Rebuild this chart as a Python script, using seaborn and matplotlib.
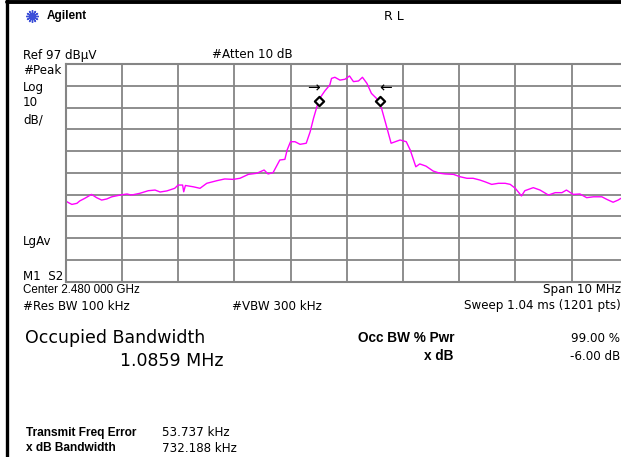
import numpy as np
import matplotlib
matplotlib.use("Agg")
import matplotlib.pyplot as plt
from matplotlib.lines import Line2D
import seaborn as sns

# trace: offset from 2.475 GHz [MHz] and level [dBuV]
freq_offset = [0.00, 0.05, 0.11, 0.20, 0.25, 0.34, 0.46, 0.55, 0.64, 0.73,
               0.82, 0.97, 1.09, 1.17, 1.32, 1.47, 1.59, 1.68, 1.80, 1.94,
               2.00, 2.08, 2.10, 2.13, 2.27, 2.39, 2.51, 2.69, 2.83, 2.98,
               3.10, 3.25, 3.40, 3.53, 3.60, 3.69, 3.81, 3.90, 3.94, 4.00,
               4.08, 4.17, 4.28, 4.35, 4.41, 4.47, 4.52, 4.61, 4.70, 4.73,
               4.79, 4.88, 4.97, 5.05, 5.12, 5.21, 5.28, 5.36, 5.44, 5.53,
               5.62, 5.71, 5.79, 5.95, 6.06, 6.13, 6.23, 6.30, 6.41, 6.54,
               6.66, 6.75, 6.90, 7.02, 7.14, 7.25, 7.37, 7.46, 7.58, 7.70,
               7.82, 7.91, 8.00, 8.05, 8.11, 8.17, 8.32, 8.44, 8.59, 8.71,
               8.83, 8.91, 9.03, 9.15, 9.27, 9.39, 9.54, 9.63, 9.74, 9.83,
               9.88, 10.00]
level_dbuv = [34.1, 33.3, 32.5, 33.0, 34.1, 35.3, 37.1, 35.6, 34.5, 35.0,
              36.0, 36.8, 37.3, 36.8, 37.6, 38.8, 39.1, 38.2, 38.7, 39.9,
              41.4, 41.4, 38.3, 41.2, 40.6, 39.9, 42.2, 43.4, 44.2, 44.0,
              44.5, 46.3, 46.8, 48.3, 46.5, 47.1, 52.9, 53.2, 57.5, 61.3,
              61.3, 60.1, 60.6, 65.9, 72.1, 77.4, 81.2, 84.6, 87.4, 90.4,
              90.9, 89.6, 90.0, 91.5, 88.9, 89.2, 90.9, 88.1, 83.5, 81.2,
              76.6, 68.2, 60.6, 62.1, 61.3, 57.5, 49.8, 51.1, 50.1, 47.8,
              46.8, 46.5, 46.3, 45.2, 44.5, 44.5, 43.7, 42.9, 41.7, 42.2,
              42.2, 41.7, 39.9, 38.3, 36.4, 38.8, 40.2, 39.1, 36.8, 37.9,
              37.9, 39.1, 37.1, 37.3, 35.6, 36.0, 36.0, 34.8, 33.5, 34.5,
              35.3, 35.0]

center_ghz = 2.480
span_mhz = 10
ref_level = 97
db_per_div = 10
marker_freq_mhz = [2479.511, 2480.597]
marker_level = [80.0, 80.0]

W, H = 621, 457
sns.set_style("white")
plt.rcParams["text.color"] = "black"
fig = plt.figure(figsize=(W / 100, H / 100), dpi=100)
fig.patch.set_facecolor("white")

# graticule (right edge runs slightly off the screenshot)
ax = fig.add_axes([65.7 / W, 1 - 281.7 / H, 562 / W, 217.7 / H])
start = center_ghz * 1000 - span_mhz / 2
freqs = [start + f for f in freq_offset]
sns.lineplot(x=freqs, y=level_dbuv, color="#ff00ff", lw=1.0, ax=ax)
ax.set_xlim(start, start + span_mhz)
ax.set_ylim(ref_level - 10 * db_per_div, ref_level)
ax.set_xticks(np.arange(start, start + span_mhz + 0.1, 1))
ax.set_yticks(np.arange(ref_level - 10 * db_per_div, ref_level + 1, db_per_div))
ax.tick_params(length=0, labelbottom=False, labelleft=False)
ax.grid(True, color="#858585", lw=1.3)
for s in ax.spines.values():
    s.set_color("#858585")
    s.set_linewidth(1.5)

# markers
ax.scatter(marker_freq_mhz, marker_level, marker="D", s=22, facecolor="white",
           edgecolor="black", linewidth=1.6, zorder=5)
ax.text(marker_freq_mhz[0] - 0.1, marker_level[0] + 6.0, "→", ha="center",
        va="center", fontsize=11)
ax.text(marker_freq_mhz[1] + 0.1, marker_level[1] + 6.0, "←", ha="center",
        va="center", fontsize=11)

# frame lines of the screen
fig.add_artist(Line2D([7 / W, 1], [1 - 2 / H, 1 - 2 / H], color="black", lw=2.8))
fig.add_artist(Line2D([6.5 / W, 6.5 / W], [0, 1], color="black", lw=2.4))
fig.add_artist(Line2D([32 / W], [1 - 16 / H], marker=(12, 2, 0), ms=9,
                      color="#3c4fd8", mew=1))

arial = "Liberation Sans"


def put(x, y, s, size=8.6, **kw):
    fig.text(x / W, 1 - y / H, s, fontsize=size, va="center", **kw)


put(47, 16, "Agilent", size=8.5, weight="bold", family=arial)
put(384, 16, "R L", size=9)
put(23, 55, "Ref 97 dBμV")
put(212, 55, "#Atten 10 dB")
put(23, 71, "#Peak")
put(23, 87, "Log")
put(23, 103, "10")
put(23, 120, "dB/")
put(23, 241, "LgAv")
put(23, 276, "M1  S2")
put(23, 290, "Center 2.480 000 GHz", family=arial, size=8.4)
put(621, 290, "Span 10 MHz", ha="right")
put(23, 306, "#Res BW 100 kHz")
put(232, 306, "#VBW 300 kHz")
put(621, 306, "Sweep 1.04 ms (1201 pts)", ha="right")
put(25, 338, "Occupied Bandwidth", size=12.5)
put(120, 361, "1.0859 MHz", size=12.5)
put(455, 338, "Occ BW % Pwr", size=9.8, weight="bold", ha="right", family=arial)
put(620, 338, "99.00 %", ha="right")
put(453, 356, "x dB", size=9.8, weight="bold", ha="right", family=arial)
put(620, 356, "-6.00 dB", ha="right")
put(26, 433, "Transmit Freq Error", size=8.6, weight="bold", family=arial)
put(162, 433, "53.737 kHz")
put(26, 448, "x dB Bandwidth", size=8.6, weight="bold", family=arial)
put(162, 448, "732.188 kHz")

fig.savefig("out.png", dpi=100)
